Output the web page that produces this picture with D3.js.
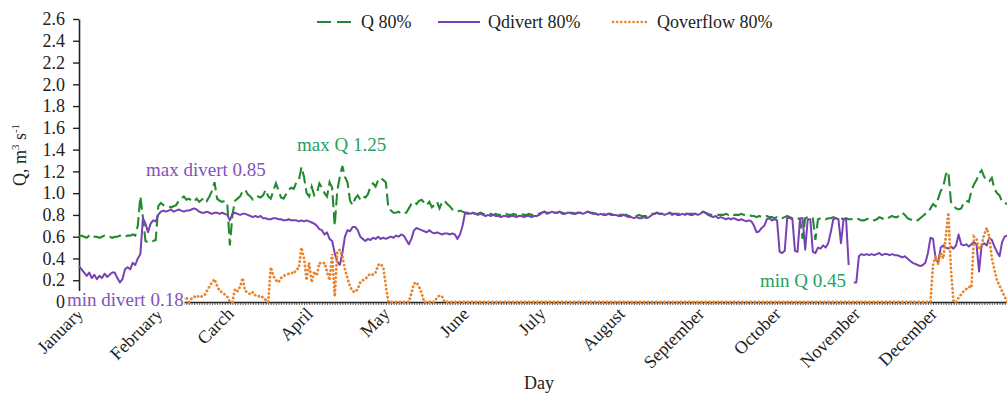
<!DOCTYPE html>
<html>
<head>
<meta charset="utf-8">
<script src="https://cdn.jsdelivr.net/npm/d3@7"></script>
<style>
  html, body { margin: 0; padding: 0; background: #fff; }
  svg { display: block; }
  text { font-family: "Liberation Serif", "Times New Roman", serif; }
</style>
</head>
<body>
<svg id="chart" width="1007" height="396"></svg>
<script>
// Month labels (as printed) and the day of year each month starts on
const monthNames = ["January", "February", "Carch", "April", "May", "June", "July",
                    "August", "September", "October", "November", "December"];
const monthStartDay = [0, 31, 59, 90, 120, 151, 181, 212, 243, 273, 304, 334];
const yTicks = [0, 0.2, 0.4, 0.6, 0.8, 1.0, 1.2, 1.4, 1.6, 1.8, 2.0, 2.2, 2.4, 2.6];

// Daily flow at 80% exceedance (m3/s), one value per day of the year
const qTotal = [
  // Jan
  0.60,0.61,0.60,0.59,0.61,0.62,0.60,0.60,0.59,0.60,0.61,0.60,0.60,0.59,0.60,0.60,0.61,0.60,0.60,0.61,
  0.61,0.62,0.61,0.70,0.97,0.78,0.56,0.55,0.55,0.56,0.57,
  // Feb
  0.88,0.91,0.89,0.88,0.88,0.87,0.88,0.89,0.93,0.95,0.97,0.94,0.95,0.93,0.92,0.95,0.92,0.94,0.96,0.93,
  0.97,1.02,1.10,0.95,0.93,0.92,0.93,0.90,
  // Mar
  0.52,0.80,0.93,0.95,0.97,1.02,1.03,0.99,0.97,0.94,0.95,0.97,0.96,0.98,1.03,0.97,0.95,1.02,1.09,1.03,
  0.96,0.95,0.99,1.03,1.05,1.04,1.10,1.12,1.24,1.15,1.00,
  // Apr
  0.97,1.06,0.98,1.00,1.09,1.05,1.00,0.97,1.10,1.05,0.70,1.02,1.15,1.25,1.15,1.10,0.93,0.89,0.95,0.98,
  0.94,0.97,0.96,0.99,1.06,1.09,1.06,1.12,1.14,1.12,
  // May
  1.10,0.86,0.84,0.82,0.82,0.83,0.81,0.82,0.82,0.86,0.90,0.92,0.90,0.93,0.94,0.91,0.89,0.92,0.87,0.89,
  0.92,0.86,0.92,0.93,0.90,0.88,0.85,0.84,0.83,0.84,0.83,
  // Jun
  0.82,0.81,0.82,0.82,0.81,0.81,0.82,0.81,0.80,0.81,0.81,0.80,0.81,0.80,0.80,0.81,0.81,0.80,0.80,0.81,
  0.80,0.80,0.81,0.80,0.80,0.81,0.80,0.80,0.81,0.81,
  // Jul
  0.82,0.83,0.82,0.82,0.83,0.82,0.82,0.83,0.82,0.81,0.82,0.82,0.82,0.81,0.82,0.82,0.82,0.82,0.83,0.82,
  0.82,0.81,0.81,0.81,0.81,0.80,0.81,0.81,0.80,0.81,0.80,
  // Aug
  0.80,0.80,0.80,0.79,0.79,0.79,0.79,0.80,0.79,0.79,0.79,0.80,0.81,0.81,0.82,0.81,0.81,0.81,0.81,0.82,
  0.81,0.81,0.81,0.81,0.81,0.81,0.81,0.81,0.81,0.81,0.81,
  // Sep
  0.81,0.83,0.82,0.81,0.80,0.80,0.80,0.80,0.80,0.80,0.81,0.80,0.81,0.80,0.80,0.80,0.81,0.80,0.80,0.80,
  0.79,0.79,0.78,0.79,0.78,0.78,0.79,0.78,0.78,0.77,
  // Oct
  0.78,0.78,0.77,0.78,0.79,0.78,0.77,0.78,0.77,0.76,0.58,0.77,0.78,0.77,0.77,0.57,0.76,0.77,0.77,0.76,
  0.77,0.77,0.78,0.77,0.76,0.77,0.76,0.77,0.76,0.76,0.77,
  // Nov
  0.77,0.76,0.75,0.75,0.76,0.77,0.76,0.75,0.76,0.78,0.77,0.76,0.76,0.78,0.79,0.78,0.78,0.80,0.82,0.80,
  0.77,0.76,0.75,0.76,0.75,0.77,0.79,0.81,0.82,0.86,
  // Dec
  0.90,0.88,0.95,1.02,1.06,1.17,1.20,0.92,0.88,0.86,0.85,0.86,0.91,0.93,0.92,1.02,1.08,1.12,1.18,1.21,
  1.15,1.12,1.11,1.14,1.04,1.00,0.98,0.92,0.91,0.90,0.89
];

// Diverted flow (m3/s); null marks a day with no record
const qDivert = [
  // Jan
  0.33,0.30,0.27,0.24,0.27,0.22,0.25,0.21,0.24,0.22,0.26,0.23,0.25,0.27,0.27,0.22,0.18,0.21,0.30,0.32,
  0.30,0.36,0.34,0.40,0.44,0.77,0.72,0.64,0.72,0.75,0.74,
  // Feb
  0.80,0.83,0.84,0.83,0.84,0.85,0.83,0.84,0.85,0.84,0.83,0.84,0.84,0.85,0.86,0.85,0.83,0.82,0.82,0.83,
  0.82,0.81,0.82,0.82,0.81,0.82,0.81,0.80,
  // Mar
  0.75,0.81,0.82,0.81,0.80,0.81,0.81,0.80,0.79,0.78,0.79,0.78,0.79,0.77,0.77,0.76,0.76,0.77,0.77,0.76,
  0.76,0.75,0.75,0.76,0.75,0.75,0.75,0.74,0.75,0.74,0.75,
  // Apr
  0.74,0.73,0.72,0.70,0.67,0.66,0.62,0.64,0.58,0.56,0.45,0.37,0.34,0.45,0.60,0.66,0.65,0.69,0.69,0.66,
  0.60,0.58,0.56,0.58,0.57,0.59,0.58,0.60,0.58,0.59,
  // May
  0.58,0.59,0.60,0.59,0.61,0.60,0.62,0.61,0.57,0.53,0.58,0.66,0.68,0.67,0.66,0.65,0.64,0.66,0.64,0.63,
  0.64,0.63,0.62,0.63,0.63,0.62,0.63,0.62,0.58,0.62,0.70,
  // Jun
  0.82,0.82,0.81,0.82,0.81,0.80,0.81,0.80,0.79,0.80,0.79,0.80,0.79,0.79,0.78,0.79,0.79,0.78,0.79,0.79,
  0.78,0.79,0.79,0.78,0.79,0.79,0.78,0.79,0.79,0.80,
  // Jul
  0.82,0.83,0.81,0.82,0.83,0.82,0.82,0.83,0.81,0.81,0.82,0.82,0.81,0.81,0.82,0.82,0.81,0.82,0.83,0.82,
  0.81,0.81,0.80,0.81,0.80,0.80,0.81,0.80,0.80,0.80,0.79,
  // Aug
  0.79,0.80,0.79,0.78,0.78,0.77,0.78,0.77,0.77,0.78,0.77,0.78,0.80,0.81,0.82,0.81,0.81,0.80,0.81,0.82,
  0.80,0.81,0.80,0.80,0.81,0.80,0.81,0.80,0.80,0.81,0.80,
  // Sep
  0.81,0.83,0.82,0.80,0.79,0.78,0.79,0.77,0.78,0.77,0.76,0.77,0.76,0.77,0.76,0.75,0.76,0.75,0.74,0.75,
  0.74,0.70,0.64,0.65,0.68,0.70,0.76,0.77,0.75,0.76,
  // Oct
  0.75,0.46,0.45,0.47,0.78,0.77,0.76,0.47,0.46,0.77,0.77,0.48,0.76,0.76,0.46,0.45,0.50,0.49,0.52,0.50,
  0.54,0.64,0.76,0.77,0.76,0.54,0.76,0.76,0.34,null,0.18,
  // Nov
  0.18,0.42,0.44,0.43,0.44,0.43,0.44,0.43,0.44,0.45,0.43,0.44,0.44,0.43,0.44,0.43,0.43,0.42,0.41,0.42,
  0.40,0.38,0.36,0.35,0.34,0.33,0.34,0.36,0.45,0.59,
  // Dec
  0.58,0.40,0.36,0.50,0.52,0.50,0.49,0.51,0.49,0.52,0.62,0.53,0.52,0.53,0.51,0.53,0.55,0.53,0.28,0.52,
  0.54,0.52,0.59,0.57,0.51,0.46,0.42,0.55,0.60,0.61,0.60
];

// Overflow (m3/s)
const qOverflow = [
  // Jan
  0,0,0,0,0,0,0,0,0,0,0,0,0,0,0,0,0,0,0,0,0,0,0,0,0,0,0,0,0,0,0,
  // Feb
  0,0,0,0,0,0,0,0,0,0,0.04,0.04,0.00,0.03,0.05,0.04,0.06,0.05,0.06,0.10,
  0.14,0.18,0.21,0.15,0.10,0.09,0.07,0.05,
  // Mar
  0.00,0.00,0.12,0.10,0.14,0.22,0.10,0.09,0.07,0.09,0.06,0.05,0.06,0.04,0.02,0.00,0.32,0.24,0.20,0.18,
  0.22,0.24,0.25,0.26,0.27,0.26,0.30,0.31,0.50,0.40,0.20,
  // Apr
  0.36,0.18,0.28,0.24,0.36,0.35,0.36,0.28,0.20,0.44,0.05,0.46,0.48,0.42,0.30,0.22,0.14,0.10,0.09,0.12,
  0.18,0.20,0.21,0.24,0.26,0.25,0.27,0.34,0.35,0.32,
  // May
  0.15,0,0,0,0,0,0,0,0,0,0.08,0.17,0.18,0.14,0.08,0,0,0,0,0,0.04,0.06,0.05,0,0,0,0,0,0,0,0,
  // Jun
  0,0,0,0,0,0,0,0,0,0,0,0,0,0,0,0,0,0,0,0,0,0,0,0,0,0,0,0,0,0,
  // Jul
  0,0,0,0,0,0,0,0,0,0,0,0,0,0,0,0,0,0,0,0,0,0,0,0,0,0,0,0,0,0,0,
  // Aug
  0,0,0,0,0,0,0,0,0,0,0,0,0,0,0,0,0,0,0,0,0,0,0,0,0,0,0,0,0,0,0,
  // Sep
  0,0,0,0,0,0,0,0,0,0,0,0,0,0,0,0,0,0,0,0,0,0,0,0,0,0,0,0,0,0,
  // Oct
  0,0,0,0,0,0,0,0,0,0,0,0,0,0,0,0,0,0,0,0,0,0,0,0,0,0,0,0,0,0,0,
  // Nov
  0,0,0,0,0,0,0,0,0,0,0,0,0,0,0,0,0,0,0,0,0,0,0,0,0,0,0,0,0,0,
  // Dec
  0.34,0.42,0.35,0.45,0.40,0.60,0.82,0.30,0.00,0.00,0.04,0.07,0.10,0.12,0.14,0.13,0.60,0.58,0.48,0.52,
  0.62,0.68,0.60,0.40,0.30,0.20,0.15,0.10,0.05,0.00,0.00
];

const seriesNames = ["Q 80%", "Qdivert 80%", "Qoverflow 80%"];
const annotations = [
  { text: "max divert 0.85", x: 146, y: 176, color: "#8650bb" },
  { text: "max Q 1.25",      x: 297, y: 151, color: "#26a05e" },
  { text: "min Q 0.45",      x: 760, y: 287, color: "#26a05e" },
  { text: "min divert 0.18", x: 67,  y: 306, color: "#8650bb", box: true }
];

const colors = { total: "#238a2e", divert: "#7742b3", overflow: "#e8842c" };

const svg = d3.select("#chart");
const axisColor = "#222";

const x = d3.scaleLinear().domain([0, 365]).range([79, 79 + 365 * 2.557]);
const y = d3.scaleLinear().domain([0, 2.6]).range([302, 19]);

// Y axis
const yAxis = svg.append("g")
  .attr("transform", `translate(${x(0)},0)`)
  .call(d3.axisLeft(y).tickValues(yTicks)
    .tickFormat(d => d === 0 ? "0" : d.toFixed(1))
    .tickSize(6).tickSizeOuter(0).tickPadding(8));
yAxis.select(".domain").attr("stroke", axisColor).attr("stroke-width", 1.6);
yAxis.selectAll(".tick line").attr("stroke", axisColor).attr("stroke-width", 1.4);
yAxis.selectAll(".tick text")
  .attr("font-size", 18).attr("fill", "#222")
  .style("font-family", '"Liberation Serif", serif');

// X axis with a tick for every day
const xAxis = svg.append("g")
  .attr("transform", `translate(0,${y(0)})`)
  .call(d3.axisBottom(x).tickValues(d3.range(0, 365))
    .tickFormat("").tickSize(3).tickSizeOuter(0));
xAxis.select(".domain").attr("stroke", axisColor).attr("stroke-width", 1.6);
xAxis.selectAll(".tick line").attr("stroke", "#333").attr("stroke-width", 0.8);

// Month labels
svg.append("g").selectAll("text")
  .data(monthStartDay)
  .join("text")
  .attr("transform", (d) => `translate(${x(d) + 5},${315}) rotate(-45)`)
  .attr("text-anchor", "end")
  .attr("font-size", 18)
  .attr("fill", "#222")
  .text((d, i) => monthNames[i]);

// Axis titles
svg.append("text")
  .attr("x", 539).attr("y", 389)
  .attr("text-anchor", "middle").attr("font-size", 18).attr("fill", "#222")
  .text("Day");

const yTitle = svg.append("text")
  .attr("transform", "translate(26,155) rotate(-90)")
  .attr("text-anchor", "middle").attr("font-size", 18).attr("fill", "#222");
yTitle.append("tspan").text("Q, m");
yTitle.append("tspan").attr("font-size", 11).attr("dy", -7).text("3");
yTitle.append("tspan").attr("dy", 7).text(" s");
yTitle.append("tspan").attr("font-size", 11).attr("dy", -7).text("-1");

// Series lines
const line = d3.line()
  .defined(d => d != null)
  .x((d, i) => x(i))
  .y(d => y(d));

svg.append("path").datum(qTotal)
  .attr("fill", "none").attr("stroke", colors.total).attr("stroke-width", 2.1)
  .attr("stroke-dasharray", "12,5").attr("d", line);

svg.append("path").datum(qDivert)
  .attr("fill", "none").attr("stroke", colors.divert).attr("stroke-width", 2)
  .attr("stroke-linejoin", "round").attr("d", line);

svg.append("path").datum(qOverflow)
  .attr("fill", "none").attr("stroke", colors.overflow).attr("stroke-width", 2.8)
  .attr("stroke-linecap", "round").attr("stroke-dasharray", "0.1,4").attr("d", line);

// Annotations
annotations.forEach(a => {
  const t = svg.append("text")
    .attr("x", a.x).attr("y", a.y)
    .attr("font-size", 19).attr("fill", a.color)
    .text(a.text);
  if (a.box) {
    const b = t.node().getBBox();
    svg.insert("rect", () => t.node())
      .attr("x", b.x - 1).attr("y", b.y + 2)
      .attr("width", b.width + 2).attr("height", b.height)
      .attr("fill", "#fff");
  }
});

// Legend
const legend = svg.append("g");
const legendItems = [
  { name: seriesNames[0], x1: 317, x2: 352, tx: 361, color: colors.total, dash: "14,6", w: 2.2, cap: "butt" },
  { name: seriesNames[1], x1: 438, x2: 480, tx: 488, color: colors.divert, dash: null, w: 2, cap: "butt" },
  { name: seriesNames[2], x1: 613, x2: 646, tx: 657, color: colors.overflow, dash: "0.1,4", w: 2.6, cap: "round" }
];
legendItems.forEach(it => {
  legend.append("line")
    .attr("x1", it.x1).attr("x2", it.x2).attr("y1", 22).attr("y2", 22)
    .attr("stroke", it.color).attr("stroke-width", it.w)
    .attr("stroke-linecap", it.cap)
    .attr("stroke-dasharray", it.dash);
  legend.append("text")
    .attr("x", it.tx).attr("y", 28)
    .attr("font-size", 18).attr("fill", "#222")
    .text(it.name);
});
</script>
</body>
</html>
